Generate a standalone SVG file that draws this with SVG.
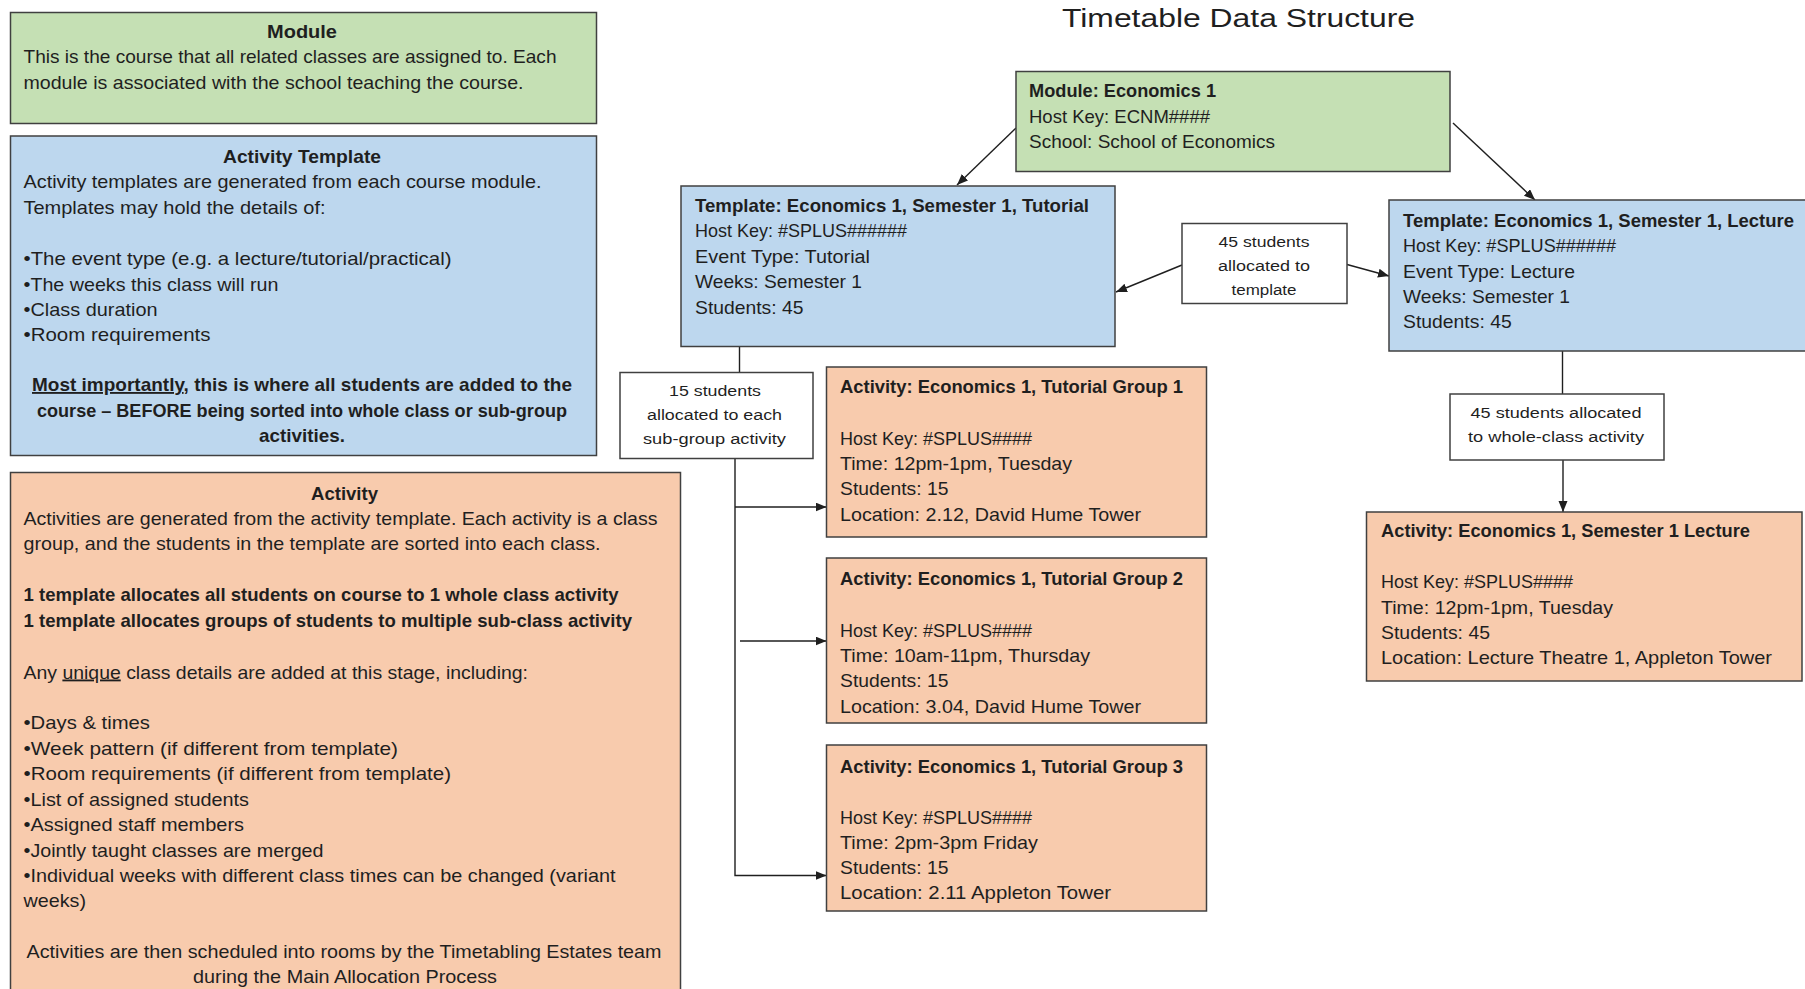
<svg xmlns="http://www.w3.org/2000/svg" width="1805" height="989" viewBox="0 0 1805 989">
<style>
text { font-family: "Liberation Sans", Arial, sans-serif; font-size: 18.5px; fill: #1f1f1f; }
.b { font-weight: bold; }
.m { text-anchor: middle; }
.lbl { font-size: 15.5px; }
.title { font-size: 26px; }
.u { text-decoration: underline; }
.box { stroke: #404040; stroke-width: 1.5; }
.green { fill: #c5e0b4; }
.blue { fill: #bdd7ee; }
.orange { fill: #f8cbad; }
.white { fill: #ffffff; }
.conn { stroke: #1f1f1f; stroke-width: 1.4; fill: none; }
.arr { marker-end: url(#ah); }
</style>
<defs>
<marker id="ah" markerUnits="userSpaceOnUse" markerWidth="12" markerHeight="10" refX="11" refY="4.5" orient="auto">
<path d="M0,0 L11,4.5 L0,9 z" fill="#1f1f1f"/>
</marker>
</defs>
<rect x="0" y="0" width="1805" height="989" fill="#ffffff"/>

<text id="diagram-title" class="title" x="1062" y="27" textLength="353" lengthAdjust="spacingAndGlyphs">Timetable Data Structure</text>

<g id="legend-module">
<rect class="box green" x="10.5" y="12.5" width="586" height="111"/>
<text class="b m" x="302" y="38" textLength="70" lengthAdjust="spacingAndGlyphs">Module</text>
<text x="23.5" y="63" textLength="533" lengthAdjust="spacingAndGlyphs">This is the course that all related classes are assigned to. Each</text>
<text x="23.5" y="89" textLength="500" lengthAdjust="spacingAndGlyphs">module is associated with the school teaching the course.</text>
</g>

<g id="legend-activity-template">
<rect class="box blue" x="10.5" y="136" width="586" height="319.5"/>
<text class="b m" x="302" y="163" textLength="158" lengthAdjust="spacingAndGlyphs">Activity Template</text>
<text x="23.5" y="188" textLength="518" lengthAdjust="spacingAndGlyphs">Activity templates are generated from each course module.</text>
<text x="23.5" y="213.5" textLength="302" lengthAdjust="spacingAndGlyphs">Templates may hold the details of:</text>
<text x="23.5" y="265" textLength="428" lengthAdjust="spacingAndGlyphs">•The event type (e.g. a lecture/tutorial/practical)</text>
<text x="23.5" y="290.5" textLength="255" lengthAdjust="spacingAndGlyphs">•The weeks this class will run</text>
<text x="23.5" y="315.5" textLength="134" lengthAdjust="spacingAndGlyphs">•Class duration</text>
<text x="23.5" y="340.5" textLength="187" lengthAdjust="spacingAndGlyphs">•Room requirements</text>
<text class="b m" x="302" y="391" textLength="540" lengthAdjust="spacingAndGlyphs"><tspan class="u">Most importantly</tspan>, this is where all students are added to the</text>
<text class="b m" x="302" y="417" textLength="530" lengthAdjust="spacingAndGlyphs">course – BEFORE being sorted into whole class or sub-group</text>
<text class="b m" x="302" y="442" textLength="86" lengthAdjust="spacingAndGlyphs">activities.</text>
</g>

<g id="legend-activity">
<rect class="box orange" x="10.5" y="472.5" width="670" height="530"/>
<text class="b m" x="344.5" y="500" textLength="67" lengthAdjust="spacingAndGlyphs">Activity</text>
<text x="23.5" y="524.5" textLength="634" lengthAdjust="spacingAndGlyphs">Activities are generated from the activity template. Each activity is a class</text>
<text x="23.5" y="550" textLength="577" lengthAdjust="spacingAndGlyphs">group, and the students in the template are sorted into each class.</text>
<text class="b" x="23.5" y="601" textLength="595" lengthAdjust="spacingAndGlyphs">1 template allocates all students on course to 1 whole class activity</text>
<text class="b" x="23.5" y="627" textLength="608.5" lengthAdjust="spacingAndGlyphs">1 template allocates groups of students to multiple sub-class activity</text>
<text x="23.5" y="678.5" textLength="504.5" lengthAdjust="spacingAndGlyphs">Any <tspan class="u">unique</tspan> class details are added at this stage, including:</text>
<text x="23.5" y="729" textLength="126.5" lengthAdjust="spacingAndGlyphs">•Days &amp; times</text>
<text x="23.5" y="754.5" textLength="374.5" lengthAdjust="spacingAndGlyphs">•Week pattern (if different from template)</text>
<text x="23.5" y="779.5" textLength="427.5" lengthAdjust="spacingAndGlyphs">•Room requirements (if different from template)</text>
<text x="23.5" y="806" textLength="225.5" lengthAdjust="spacingAndGlyphs">•List of assigned students</text>
<text x="23.5" y="831" textLength="220.5" lengthAdjust="spacingAndGlyphs">•Assigned staff members</text>
<text x="23.5" y="856.5" textLength="300" lengthAdjust="spacingAndGlyphs">•Jointly taught classes are merged</text>
<text x="23.5" y="881.5" textLength="592" lengthAdjust="spacingAndGlyphs">•Individual weeks with different class times can be changed (variant</text>
<text x="23.5" y="907" textLength="62.5" lengthAdjust="spacingAndGlyphs">weeks)</text>
<text class="m" x="344" y="958" textLength="635" lengthAdjust="spacingAndGlyphs">Activities are then scheduled into rooms by the Timetabling Estates team</text>
<text class="m" x="345" y="983" textLength="304" lengthAdjust="spacingAndGlyphs">during the Main Allocation Process</text>
</g>

<g id="connectors">
<line class="conn arr" x1="1016" y1="128" x2="957" y2="185"/>
<line class="conn arr" x1="1453" y1="123" x2="1535" y2="200"/>
<line class="conn arr" x1="1182" y1="265" x2="1116" y2="292"/>
<line class="conn arr" x1="1347" y1="264.5" x2="1389" y2="276"/>
<line class="conn" x1="739.5" y1="346.5" x2="739.5" y2="372.5"/>
<path class="conn arr" d="M735,458.5 V875.5 H826.5"/>
<line class="conn arr" x1="735" y1="507" x2="826.5" y2="507"/>
<line class="conn arr" x1="740" y1="641" x2="826.5" y2="641"/>
<line class="conn" x1="1562.5" y1="351" x2="1562.5" y2="394"/>
<line class="conn arr" x1="1563" y1="460" x2="1563" y2="512"/>
</g>

<g id="module-economics-1">
<rect class="box green" x="1016" y="71.5" width="434" height="100"/>
<text class="b" x="1029" y="97" textLength="187" lengthAdjust="spacingAndGlyphs">Module: Economics 1</text>
<text x="1029" y="123" textLength="181" lengthAdjust="spacingAndGlyphs">Host Key: ECNM####</text>
<text x="1029" y="148" textLength="246" lengthAdjust="spacingAndGlyphs">School: School of Economics</text>
</g>

<g id="template-tutorial">
<rect class="box blue" x="681" y="186" width="434" height="160.5"/>
<text class="b" x="695" y="212" textLength="394" lengthAdjust="spacingAndGlyphs">Template: Economics 1, Semester 1, Tutorial</text>
<text x="695" y="237" textLength="212" lengthAdjust="spacingAndGlyphs">Host Key: #SPLUS######</text>
<text x="695" y="262.5" textLength="175" lengthAdjust="spacingAndGlyphs">Event Type: Tutorial</text>
<text x="695" y="288" textLength="167" lengthAdjust="spacingAndGlyphs">Weeks: Semester 1</text>
<text x="695" y="313.5" textLength="108.5" lengthAdjust="spacingAndGlyphs">Students: 45</text>
</g>

<g id="template-lecture">
<rect class="box blue" x="1389" y="200" width="430" height="151"/>
<text class="b" x="1403" y="227" textLength="391" lengthAdjust="spacingAndGlyphs">Template: Economics 1, Semester 1, Lecture</text>
<text x="1403" y="252" textLength="213" lengthAdjust="spacingAndGlyphs">Host Key: #SPLUS######</text>
<text x="1403" y="277.5" textLength="172" lengthAdjust="spacingAndGlyphs">Event Type: Lecture</text>
<text x="1403" y="303" textLength="167" lengthAdjust="spacingAndGlyphs">Weeks: Semester 1</text>
<text x="1403" y="328" textLength="108.7" lengthAdjust="spacingAndGlyphs">Students: 45</text>
</g>

<g id="label-45-to-template">
<rect class="box white" x="1182" y="223.5" width="165" height="80"/>
<text class="lbl m" x="1264" y="247" textLength="91" lengthAdjust="spacingAndGlyphs">45 students</text>
<text class="lbl m" x="1264" y="271" textLength="92" lengthAdjust="spacingAndGlyphs">allocated to</text>
<text class="lbl m" x="1264" y="295" textLength="65" lengthAdjust="spacingAndGlyphs">template</text>
</g>

<g id="label-15-each">
<rect class="box white" x="620" y="372.5" width="193" height="86"/>
<text class="lbl m" x="715" y="396" textLength="92" lengthAdjust="spacingAndGlyphs">15 students</text>
<text class="lbl m" x="714.5" y="419.5" textLength="135" lengthAdjust="spacingAndGlyphs">allocated to each</text>
<text class="lbl m" x="714.5" y="444" textLength="143" lengthAdjust="spacingAndGlyphs">sub-group activity</text>
</g>

<g id="label-45-whole-class">
<rect class="box white" x="1450" y="394" width="214" height="66"/>
<text class="lbl m" x="1556" y="418" textLength="171" lengthAdjust="spacingAndGlyphs">45 students allocated</text>
<text class="lbl m" x="1556" y="442" textLength="176" lengthAdjust="spacingAndGlyphs">to whole-class activity</text>
</g>

<g id="activity-tutorial-group-1">
<rect class="box orange" x="826.5" y="367" width="380" height="170"/>
<text class="b" x="840" y="393" textLength="343" lengthAdjust="spacingAndGlyphs">Activity: Economics 1, Tutorial Group 1</text>
<text x="840" y="444.5" textLength="192" lengthAdjust="spacingAndGlyphs">Host Key: #SPLUS####</text>
<text x="840" y="470" textLength="232" lengthAdjust="spacingAndGlyphs">Time: 12pm-1pm, Tuesday</text>
<text x="840" y="495" textLength="108.5" lengthAdjust="spacingAndGlyphs">Students: 15</text>
<text x="840" y="521" textLength="301" lengthAdjust="spacingAndGlyphs">Location: 2.12, David Hume Tower</text>
</g>

<g id="activity-tutorial-group-2">
<rect class="box orange" x="826.5" y="558" width="380" height="165"/>
<text class="b" x="840" y="585" textLength="343" lengthAdjust="spacingAndGlyphs">Activity: Economics 1, Tutorial Group 2</text>
<text x="840" y="636.5" textLength="192" lengthAdjust="spacingAndGlyphs">Host Key: #SPLUS####</text>
<text x="840" y="662" textLength="250" lengthAdjust="spacingAndGlyphs">Time: 10am-11pm, Thursday</text>
<text x="840" y="687" textLength="108.5" lengthAdjust="spacingAndGlyphs">Students: 15</text>
<text x="840" y="712.5" textLength="301" lengthAdjust="spacingAndGlyphs">Location: 3.04, David Hume Tower</text>
</g>

<g id="activity-tutorial-group-3">
<rect class="box orange" x="826.5" y="745" width="380" height="166"/>
<text class="b" x="840" y="773" textLength="343" lengthAdjust="spacingAndGlyphs">Activity: Economics 1, Tutorial Group 3</text>
<text x="840" y="823.5" textLength="192" lengthAdjust="spacingAndGlyphs">Host Key: #SPLUS####</text>
<text x="840" y="849" textLength="198" lengthAdjust="spacingAndGlyphs">Time: 2pm-3pm Friday</text>
<text x="840" y="873.5" textLength="108.5" lengthAdjust="spacingAndGlyphs">Students: 15</text>
<text x="840" y="899" textLength="271" lengthAdjust="spacingAndGlyphs">Location: 2.11 Appleton Tower</text>
</g>

<g id="activity-semester-1-lecture">
<rect class="box orange" x="1366.5" y="512" width="435.5" height="169"/>
<text class="b" x="1381" y="537" textLength="369" lengthAdjust="spacingAndGlyphs">Activity: Economics 1, Semester 1 Lecture</text>
<text x="1381" y="588" textLength="192" lengthAdjust="spacingAndGlyphs">Host Key: #SPLUS####</text>
<text x="1381" y="614" textLength="232" lengthAdjust="spacingAndGlyphs">Time: 12pm-1pm, Tuesday</text>
<text x="1381" y="638.5" textLength="109" lengthAdjust="spacingAndGlyphs">Students: 45</text>
<text x="1381" y="664" textLength="391" lengthAdjust="spacingAndGlyphs">Location: Lecture Theatre 1, Appleton Tower</text>
</g>
</svg>
